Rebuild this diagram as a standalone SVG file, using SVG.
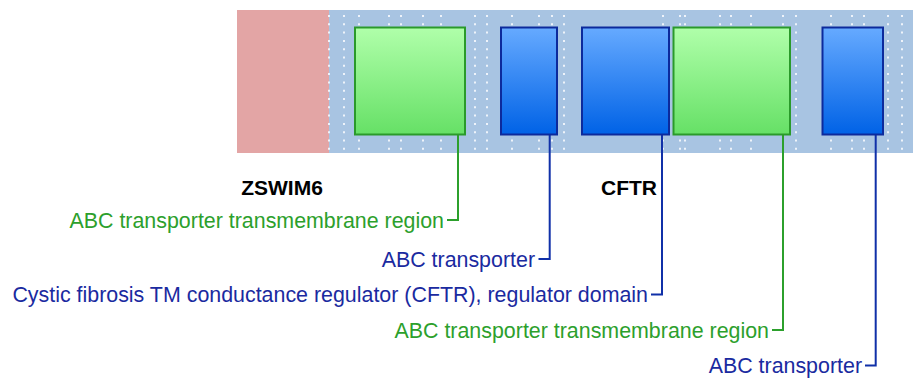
<svg xmlns="http://www.w3.org/2000/svg" width="913" height="378" viewBox="0 0 913 378">
<defs>
<linearGradient id="gGreen" x1="0" y1="0" x2="0" y2="1"><stop offset="0" stop-color="#b0ffaa"/><stop offset="1" stop-color="#66e066"/></linearGradient>
<linearGradient id="gBlue" x1="0" y1="0" x2="0" y2="1"><stop offset="0" stop-color="#66aaff"/><stop offset="1" stop-color="#0062e6"/></linearGradient>
</defs>
<style>
.dots line{stroke:#eef3fa;stroke-width:2;stroke-dasharray:2 6.3}
.gbox{fill:url(#gGreen);stroke:#2a9a2a;stroke-width:2}
.bbox{fill:url(#gBlue);stroke:#0c2a9c;stroke-width:2}
.gl{fill:none;stroke:#2ca02c;stroke-width:2}
.bl{fill:none;stroke:#1030a8;stroke-width:2}
text{font-family:"Liberation Sans",Arial,sans-serif;font-size:21.4px}
.gt{fill:#2ca02c;text-anchor:end}
.bt{fill:#1a2aa0;text-anchor:end}
.title{font-weight:bold;fill:#000;text-anchor:middle;font-size:21px}
</style>
<g id="track">
<rect x="237" y="10" width="92" height="143" fill="#e3a5a5"/>
<rect x="329" y="10" width="584" height="143" fill="#a8c4e2"/>
<g class="dots">
<line x1="329" y1="15" x2="329" y2="150"/><line x1="344" y1="15" x2="344" y2="150"/><line x1="359" y1="15" x2="359" y2="150"/><line x1="389" y1="15" x2="389" y2="150"/><line x1="401" y1="15" x2="401" y2="150"/><line x1="423" y1="15" x2="423" y2="150"/><line x1="441" y1="15" x2="441" y2="150"/><line x1="475" y1="15" x2="475" y2="150"/><line x1="487" y1="15" x2="487" y2="150"/><line x1="512" y1="15" x2="512" y2="150"/><line x1="539" y1="15" x2="539" y2="150"/><line x1="552" y1="15" x2="552" y2="150"/><line x1="564" y1="15" x2="564" y2="150"/><line x1="663" y1="15" x2="663" y2="150"/><line x1="680" y1="15" x2="680" y2="150"/><line x1="685" y1="15" x2="685" y2="150"/><line x1="720" y1="15" x2="720" y2="150"/><line x1="731" y1="15" x2="731" y2="150"/><line x1="751" y1="15" x2="751" y2="150"/><line x1="783" y1="15" x2="783" y2="150"/><line x1="796" y1="15" x2="796" y2="150"/><line x1="831" y1="15" x2="831" y2="150"/><line x1="852" y1="15" x2="852" y2="150"/><line x1="864" y1="15" x2="864" y2="150"/><line x1="888" y1="15" x2="888" y2="150"/><line x1="902" y1="15" x2="902" y2="150"/>
</g>
</g>
<g id="gene-labels">
<text class="title" x="282" y="194.5">ZSWIM6</text>
<text class="title" x="629" y="195">CFTR</text>
</g>
<g id="connectors">
<path class="gl" d="M458 135V220H447"/>
<path class="bl" d="M549.7 135V259H538.5"/>
<path class="bl" d="M662 135V294.5H651"/>
<path class="gl" d="M783 135V330H772"/>
<path class="bl" d="M875.7 135V365.5H865"/>
</g>
<g id="n1"><rect class="gbox" x="355" y="27.5" width="110" height="107"/><text class="gt" x="444" y="228">ABC transporter transmembrane region</text></g>
<g id="n2"><rect class="bbox" x="501" y="27.5" width="56" height="107"/><text class="bt" x="535" y="266.5">ABC transporter</text></g>
<g id="n3"><rect class="bbox" x="582" y="27.5" width="87" height="107"/><text class="bt" x="648" y="302">Cystic fibrosis TM conductance regulator (CFTR), regulator domain</text></g>
<g id="n4"><rect class="gbox" x="673.5" y="27.5" width="116.5" height="107"/><text class="gt" x="769" y="337.5">ABC transporter transmembrane region</text></g>
<g id="n5"><rect class="bbox" x="822.5" y="27.5" width="60.5" height="107"/><text class="bt" x="862" y="373">ABC transporter</text></g>
</svg>
